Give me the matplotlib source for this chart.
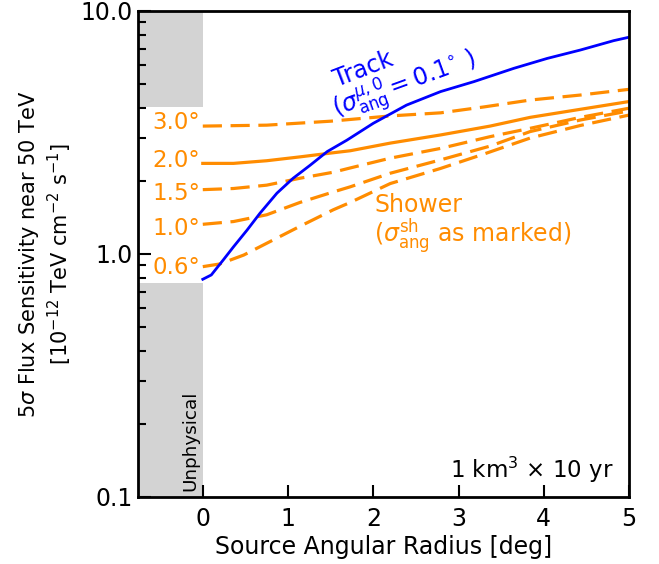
import numpy as np
import matplotlib
matplotlib.use("Agg")
import matplotlib.pyplot as plt
from matplotlib.ticker import FixedLocator, FixedFormatter, LogLocator, NullFormatter

# ---- data ----
track_x = [0, 0.1, 0.24, 0.36, 0.52, 0.67, 0.87, 1.06, 1.26, 1.46, 1.69, 2.0, 2.39, 2.79, 3.18,
           3.65, 4.04, 4.43, 4.82, 5.0]
track_y = [0.787, 0.82, 0.945, 1.07, 1.255, 1.47, 1.78, 2.05, 2.32, 2.64, 2.94, 3.45, 4.10, 4.66,
           5.12, 5.81, 6.38, 6.91, 7.55, 7.8]

sh30_x = [0, 0.75, 1.5, 2.2, 2.79, 3.3, 3.84, 4.43, 5.0]
sh30_y = [3.36, 3.39, 3.52, 3.70, 3.81, 4.03, 4.30, 4.51, 4.76]

sh20_x = [0, 0.36, 0.75, 1.14, 1.53, 1.73, 2.2, 2.79, 3.37, 3.84, 4.43, 5.0]
sh20_y = [2.36, 2.36, 2.42, 2.51, 2.61, 2.66, 2.86, 3.09, 3.36, 3.65, 3.94, 4.24]

sh15_x = [0, 0.36, 0.75, 1.14, 1.53, 1.73, 2.2, 2.79, 3.37, 3.84, 4.43, 5.0]
sh15_y = [1.84, 1.86, 1.92, 2.05, 2.17, 2.26, 2.48, 2.72, 3.04, 3.29, 3.65, 3.98]

sh10_x = [0, 0.36, 0.75, 1.14, 1.53, 1.73, 2.2, 2.79, 3.37, 3.84, 4.43, 5.0]
sh10_y = [1.325, 1.36, 1.45, 1.63, 1.80, 1.89, 2.15, 2.44, 2.78, 3.19, 3.56, 3.88]

sh06_x = [0, 0.2, 0.48, 0.75, 1.14, 1.53, 1.73, 2.2, 2.79, 3.3, 3.84, 4.43, 5.0]
sh06_y = [0.887, 0.91, 0.99, 1.107, 1.30, 1.52, 1.63, 1.95, 2.25, 2.58, 3.0, 3.38, 3.73]

shower_labels = ["3.0°", "2.0°", "1.5°", "1.0°", "0.6°"]
shower_label_y = [3.49, 2.42, 1.78, 1.276, 0.88]

xticks = [0, 1, 2, 3, 4, 5]
yticks = [0.1, 1.0, 10.0]
ytick_labels = ["0.1", "1.0", "10.0"]

unphys_low = 0.76
unphys_high = 4.03

ORANGE = "#FF8C00"
BLUE = "#0000FF"

fig = plt.figure(figsize=(6.59, 5.64), dpi=100)
ax = fig.add_axes([0.2094, 0.1188, 0.9545 - 0.2094, 0.9805 - 0.1188])
ax.set_yscale("log")
ax.set_xlim(-0.76, 5.0)
ax.set_ylim(0.1, 10.0)

# unphysical region
ax.fill_between([-0.76, 0], [0.1, 0.1], [unphys_low, unphys_low], color="lightgrey", lw=0, zorder=0)
ax.fill_between([-0.76, 0], [unphys_high, unphys_high], [10, 10], color="lightgrey", lw=0, zorder=0)
ax.text(-0.14, 0.106, "Unphysical", rotation=90, ha="center", va="bottom", fontsize=13.2, color="black")

dash = (6, 2.7)
ax.plot(sh30_x, sh30_y, color=ORANGE, lw=2.3, dashes=dash)
ax.plot(sh20_x, sh20_y, color=ORANGE, lw=2.3)
ax.plot(sh15_x, sh15_y, color=ORANGE, lw=2.3, dashes=dash)
ax.plot(sh10_x, sh10_y, color=ORANGE, lw=2.3, dashes=dash)
ax.plot(sh06_x, sh06_y, color=ORANGE, lw=2.3, dashes=dash)
ax.plot(track_x, track_y, color=BLUE, lw=2.0)

for lab, yv in zip(shower_labels, shower_label_y):
    ax.text(-0.03, yv, lab, ha="right", va="center", fontsize=16.5, color=ORANGE)

ax.text(1.58, 4.85, "Track", rotation=21, rotation_mode="anchor", ha="left", va="baseline",
        fontsize=17, color=BLUE)
ax.text(1.565, 3.66, r"$(\sigma_{\rm ang}^{\mu,0} = 0.1^{\circ}$ )", rotation=20, rotation_mode="anchor",
        ha="left", va="baseline", fontsize=17, color=BLUE)

ax.text(2.01, 1.49, "Shower", ha="left", va="baseline", fontsize=17, color=ORANGE)
ax.text(2.01, 1.12, r"($\sigma_{\rm ang}^{\rm sh}$ as marked)", ha="left", va="baseline", fontsize=17, color=ORANGE)

ax.text(4.82, 0.12, r"1 km$^3$ $\times$ 10 yr", ha="right", va="baseline", fontsize=16.5, color="black")

ax.xaxis.set_major_locator(FixedLocator(xticks))
ax.yaxis.set_major_locator(FixedLocator(yticks))
ax.yaxis.set_major_formatter(FixedFormatter(ytick_labels))
ax.yaxis.set_minor_locator(LogLocator(base=10, subs=np.arange(2, 10)))
ax.yaxis.set_minor_formatter(NullFormatter())

ax.tick_params(axis="both", which="both", direction="in", labelsize=17, top=False, right=False)
ax.tick_params(axis="both", which="major", length=9, width=1.5)
ax.tick_params(axis="x", which="major", pad=7)
ax.tick_params(axis="y", which="minor", length=5.5, width=1.5)
for s in ax.spines.values():
    s.set_linewidth(2)

ax.set_xlabel("Source Angular Radius [deg]", fontsize=17, labelpad=3)
ax.set_ylabel("5$\\sigma$ Flux Sensitivity near 50 TeV\n[10$^{-12}$ TeV cm$^{-2}$ s$^{-1}$]", fontsize=15, labelpad=5)

fig.savefig("out.png", dpi=100)
